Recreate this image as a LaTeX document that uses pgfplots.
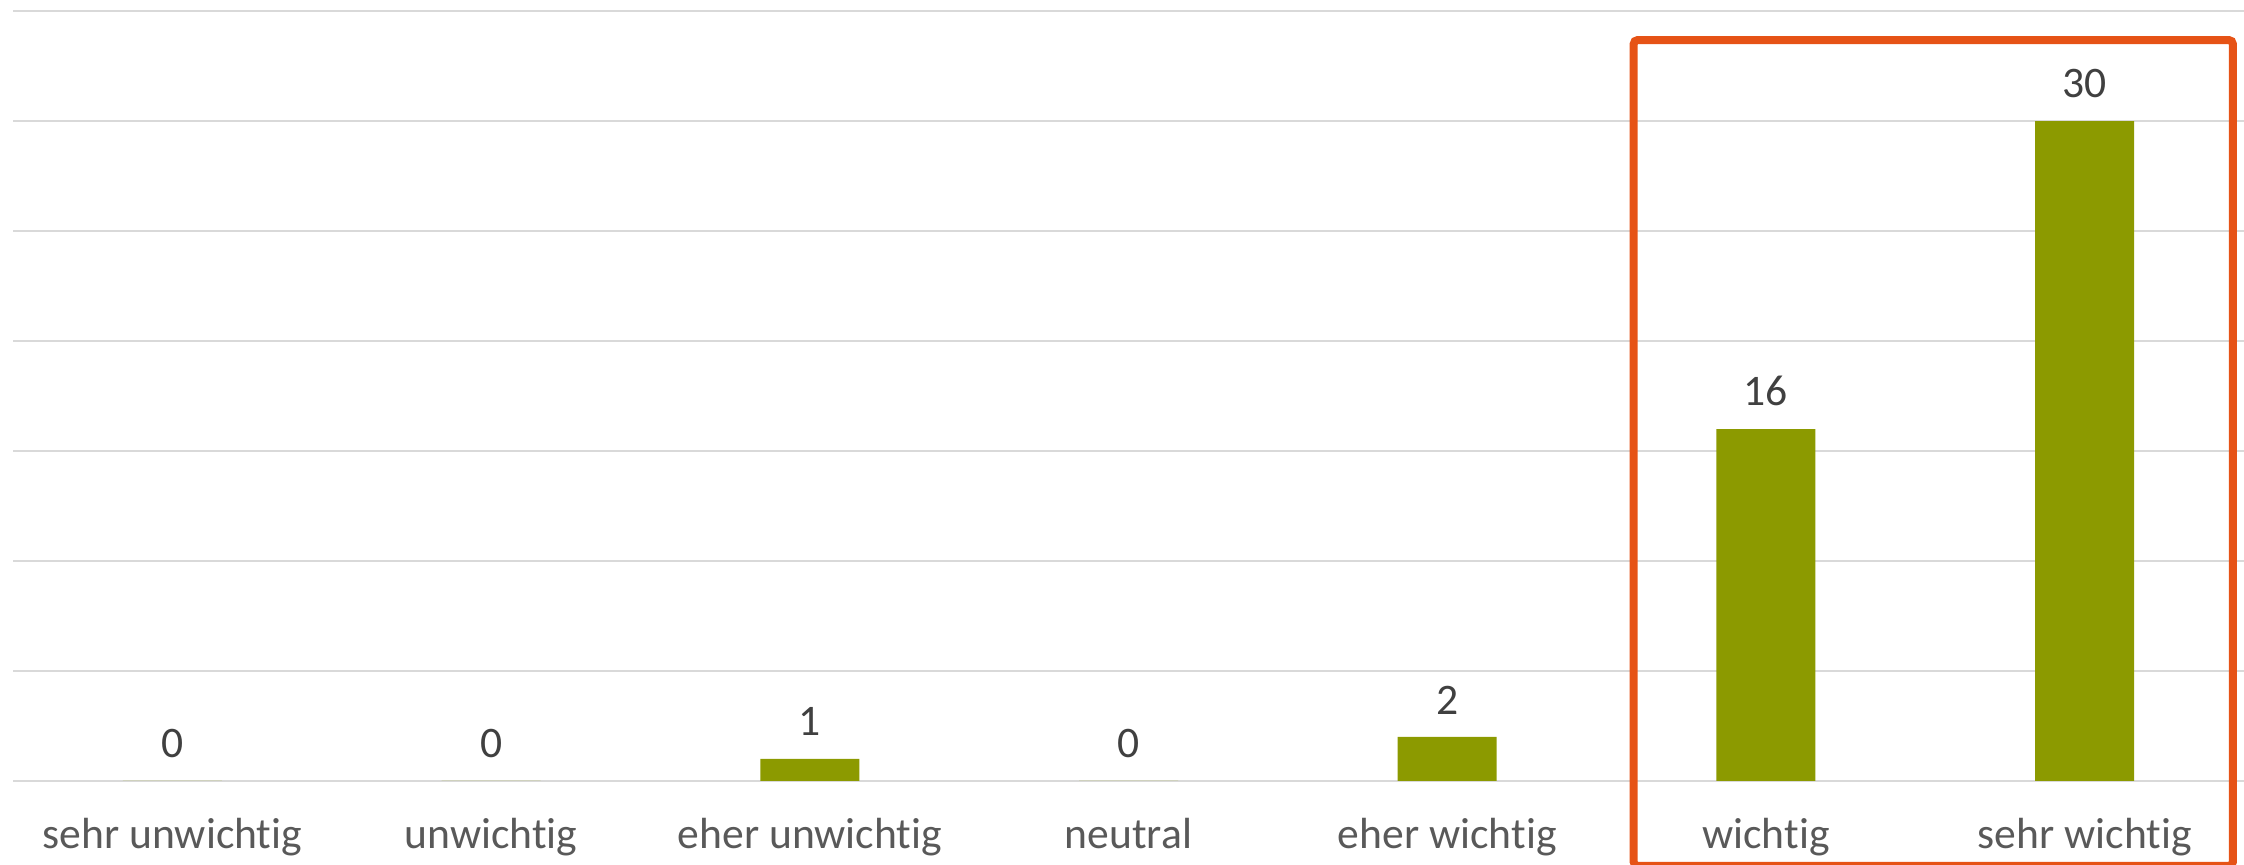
\documentclass[border=0pt]{standalone}
\usepackage{pgfplots}
\pgfplotsset{compat=1.18}
\usepackage{fontspec}
\setmainfont{Carlito}[Ligatures=NoCommon]

\definecolor{barolive}{RGB}{140,154,0}
\definecolor{gridgrey}{RGB}{217,217,217}
\definecolor{valtext}{RGB}{64,64,64}
\definecolor{ticktext}{RGB}{89,89,89}
\definecolor{boxred}{RGB}{230,83,22}

\begin{document}
\begin{tikzpicture}
\begin{axis}[
    scale only axis,
    width=557.75pt, height=192.5pt,
    xmin=-0.5, xmax=6.5,
    ymin=0, ymax=35,
    xtick={0,1,2,3,4,5,6},
    xticklabels={sehr unwichtig, unwichtig, eher unwichtig, neutral, eher wichtig, wichtig, sehr wichtig},
    ytick={0,5,10,15,20,25,30,35},
    yticklabels={},
    ymajorgrids,
    grid style={gridgrey, line width=0.6pt},
    axis line style={draw=none},
    major tick length=0pt,
    tick label style={font=\fontsize{10.9}{13}\selectfont},
    xticklabel style={text=ticktext, anchor=base, yshift=-16.75pt},
    /pgf/number format/assume math mode=true,
    clip=false,
]
\addplot[ybar, bar width=24.75pt, fill=barolive, draw=none,
    nodes near coords,
    every node near coord/.append style={font=\fontsize{10.9}{13}\selectfont, text=valtext, anchor=base, yshift=5.75pt},
] coordinates {(0,0) (1,0) (2,1) (3,0) (4,2) (5,16) (6,30)};

% highlight frame around the two top categories
\draw[boxred, line width=2pt, rounded corners=1pt]
    (axis cs:4.585,-3.86) rectangle (axis cs:6.465,33.68);

\coordinate (sw) at (rel axis cs:0,0);
\coordinate (ne) at (rel axis cs:1,1);
\end{axis}
\pgfresetboundingbox
\path[use as bounding box] ([shift={(-3.25pt,-21pt)}]sw) rectangle ([shift={(0pt,2.75pt)}]ne);
\end{tikzpicture}
\end{document}
